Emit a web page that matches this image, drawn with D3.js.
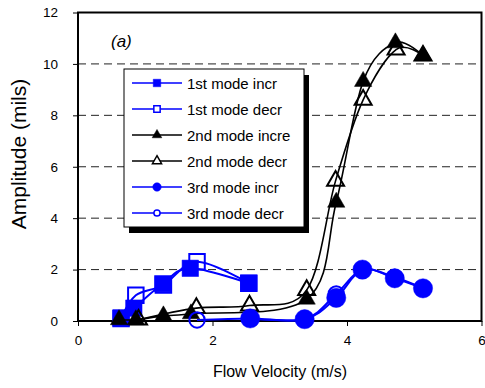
<!DOCTYPE html>
<html>
<head>
<meta charset="utf-8">
<script src="https://cdn.jsdelivr.net/npm/d3@7"></script>
<style>
  body { margin: 0; background: #fff; }
  text { font-family: "Liberation Sans", Arial, sans-serif; }
</style>
</head>
<body>
<div id="chart"></div>
<script>
// values
const m1IncV = [0.64, 0.83, 1.26, 1.67, 2.54];
const m1IncA = [0.12, 0.5, 1.45, 2.05, 1.47];
const m1DecV = [0.64, 0.86, 1.27, 1.77, 2.54];
const m1DecA = [0.1, 1.0, 1.4, 2.3, 1.47];
const m2IncV = [0.61, 0.86, 1.27, 1.68, 3.4, 3.84, 4.24, 4.72, 5.13];
const m2IncA = [0.05, 0.05, 0.2, 0.28, 0.85, 4.62, 9.32, 10.82, 10.32];
const m2DecV = [0.9, 1.76, 2.55, 3.4, 3.83, 4.24, 4.73, 5.13];
const m2DecA = [0.05, 0.5, 0.6, 1.2, 5.45, 8.6, 10.56, 10.32];
const m3IncV = [2.56, 3.37, 3.84, 4.23, 4.71, 5.13];
const m3IncA = [0.1, 0.07, 0.9, 2.0, 1.66, 1.27];
const m3DecV = [1.77, 2.56, 3.37, 3.84, 4.23, 4.71, 5.13];
const m3DecA = [0.04, 0.1, 0.07, 1.05, 2.0, 1.7, 1.27];

const xTicks = [0, 2, 4, 6];
const yTicks = [0, 2, 4, 6, 8, 10, 12];
const gridVals = [2, 4, 6, 8, 10];

const seriesNames = ["1st mode incr", "1st mode decr", "2nd mode incre", "2nd mode decr", "3rd mode incr", "3rd mode decr"];

// build the series table
const series = [
  {name: seriesNames[0], v: m1IncV, a: m1IncA, color: "#0000ff", shape: "square", filled: true},
  {name: seriesNames[1], v: m1DecV, a: m1DecA, color: "#0000ff", shape: "square", filled: false},
  {name: seriesNames[2], v: m2IncV, a: m2IncA, color: "#000000", shape: "triangle", filled: true},
  {name: seriesNames[3], v: m2DecV, a: m2DecA, color: "#000000", shape: "triangle", filled: false},
  {name: seriesNames[4], v: m3IncV, a: m3IncA, color: "#0000ff", shape: "circle", filled: true},
  {name: seriesNames[5], v: m3DecV, a: m3DecA, color: "#0000ff", shape: "circle", filled: false}
];

const W = 485, H = 388;
const plot = {left: 78, right: 481.5, top: 12.5, bottom: 321};

const svg = d3.select("#chart").append("svg")
  .attr("width", W)
  .attr("height", H);

const x = d3.scaleLinear().domain([0, 6]).range([plot.left, plot.right]);
const y = d3.scaleLinear().domain([0, 12]).range([plot.bottom, plot.top]);

// dashed grid
svg.append("g").selectAll("line")
  .data(gridVals)
  .join("line")
    .attr("x1", plot.left).attr("x2", plot.right)
    .attr("y1", d => y(d)).attr("y2", d => y(d))
    .attr("stroke", "#222")
    .attr("stroke-width", 1)
    .attr("stroke-dasharray", "8,5");

// axes
svg.append("g")
  .attr("transform", `translate(0,${plot.bottom})`)
  .call(d3.axisBottom(x).tickValues(xTicks).tickSize(5).tickPadding(9).tickFormat(d3.format("d")))
  .call(g => g.select(".domain").remove())
  .call(g => g.selectAll("line").attr("stroke", "#000"))
  .call(g => g.selectAll("text").style("font-size", "13.5px").attr("fill", "#000"));

svg.append("g")
  .attr("transform", `translate(${plot.left},0)`)
  .call(d3.axisLeft(y).tickValues(yTicks).tickSize(5).tickPadding(15).tickFormat(d3.format("d")))
  .call(g => g.select(".domain").remove())
  .call(g => g.selectAll("line").attr("stroke", "#000"))
  .call(g => g.selectAll("text").style("font-size", "13.5px").attr("fill", "#000"));

// frame
svg.append("rect")
  .attr("x", plot.left).attr("y", plot.top)
  .attr("width", plot.right - plot.left)
  .attr("height", plot.bottom - plot.top)
  .attr("fill", "none")
  .attr("stroke", "#000")
  .attr("stroke-width", 2);

// axis titles
svg.append("text")
  .attr("x", 280).attr("y", 377)
  .attr("text-anchor", "middle")
  .style("font-size", "16px")
  .text("Flow Velocity (m/s)");

svg.append("text")
  .attr("transform", "translate(26,154) rotate(-90)")
  .attr("text-anchor", "middle")
  .style("font-size", "21px")
  .text("Amplitude (mils)");

svg.append("text")
  .attr("x", 111).attr("y", 47)
  .style("font-size", "17px")
  .style("font-style", "italic")
  .text("(a)");

// markers
function symbolFor(shape, size) {
  const type = shape === "square" ? d3.symbolSquare
    : shape === "triangle" ? d3.symbolTriangle : d3.symbolCircle;
  return d3.symbol().type(type).size(size)();
}
const bigSize = {square: 270, triangle: 130, circle: 290};
const openSize = {square: 240, triangle: 125, circle: 185};

const line = d3.line()
  .x(d => x(d[0]))
  .y(d => y(d[1]))
  .curve(d3.curveCatmullRom.alpha(0));

series.forEach(s => {
  const pts = s.v.map((v, i) => [v, s.a[i]]);
  const g = svg.append("g");
  g.append("path")
    .datum(pts)
    .attr("d", line)
    .attr("fill", "none")
    .attr("stroke", s.color)
    .attr("stroke-width", s.color === "#000000" ? 1.6 : 2);
  g.selectAll("path.mk")
    .data(pts)
    .join("path")
      .attr("class", "mk")
      .attr("transform", d => `translate(${x(d[0])},${y(d[1])})`)
      .attr("d", symbolFor(s.shape, s.filled ? bigSize[s.shape] : openSize[s.shape]))
      .attr("fill", s.filled ? s.color : "none")
      .attr("stroke", s.color)
      .attr("stroke-width", s.filled ? 0.5 : 2);
});

// legend
const lg = {x: 124, y: 69, w: 180, h: 158};
svg.append("rect")
  .attr("x", lg.x + 5).attr("y", lg.y + 6)
  .attr("width", lg.w).attr("height", lg.h)
  .attr("fill", "#000");
svg.append("rect")
  .attr("x", lg.x).attr("y", lg.y)
  .attr("width", lg.w).attr("height", lg.h)
  .attr("fill", "#fff")
  .attr("stroke", "#000")
  .attr("stroke-width", 1);

const legendSize = {square: 56, triangle: 40, circle: 56};
const legendOpen = {square: 40, triangle: 36, circle: 30};
const rows = svg.append("g").selectAll("g")
  .data(series)
  .join("g")
    .attr("transform", (d, i) => `translate(${lg.x},${lg.y + 14 + i * 26})`);
rows.append("line")
  .attr("x1", 8).attr("x2", 58)
  .attr("stroke", d => d.color)
  .attr("stroke-width", 1.6);
rows.append("path")
  .attr("transform", "translate(33,0)")
  .attr("d", d => symbolFor(d.shape, d.filled ? legendSize[d.shape] : legendOpen[d.shape]))
  .attr("fill", d => d.filled ? d.color : "#fff")
  .attr("stroke", d => d.color)
  .attr("stroke-width", d => d.filled ? 0.5 : 1.5);
rows.append("text")
  .attr("x", 63).attr("y", 5.5)
  .style("font-size", "15px")
  .text(d => d.name);
</script>
</body>
</html>
